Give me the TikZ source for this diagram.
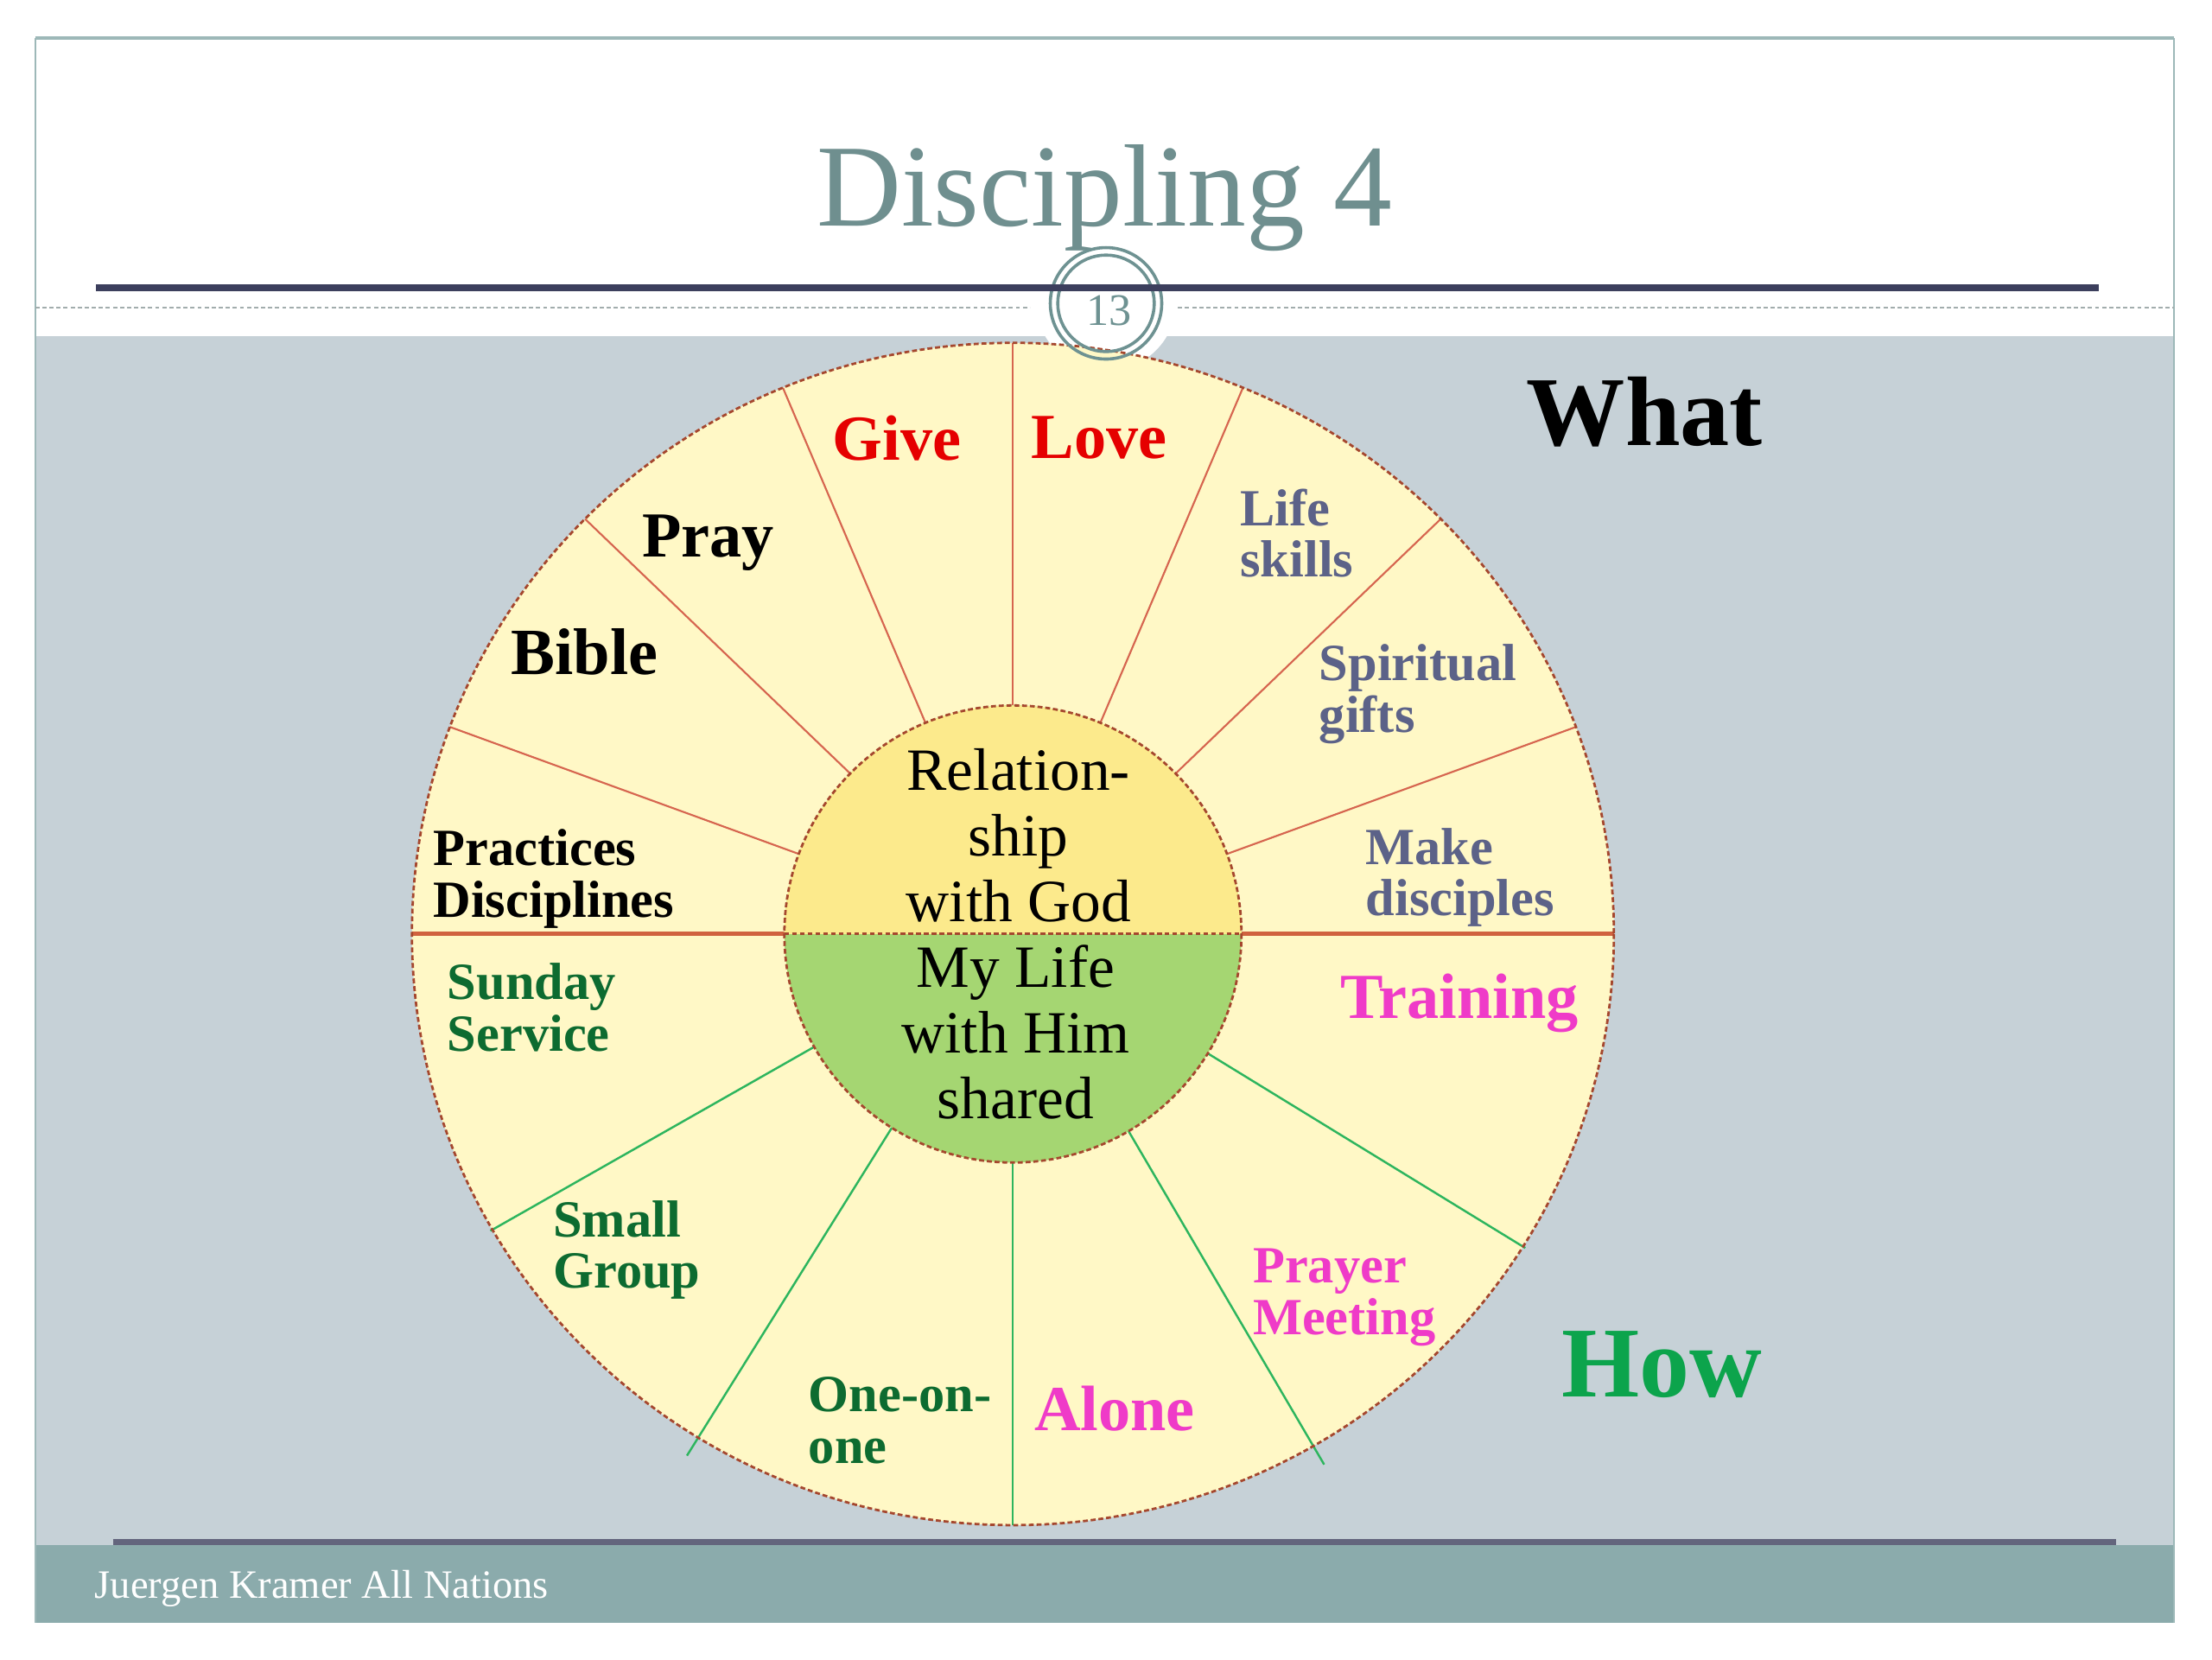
\documentclass[tikz,border=0pt]{standalone}
\usepackage{fontspec}
\setmainfont{Liberation Serif}
\definecolor{titlecol}{HTML}{6F8F8F}
\definecolor{bandgray}{HTML}{C6D1D7}
\definecolor{footteal}{HTML}{8BABAC}
\definecolor{framecol}{HTML}{9DB8B8}
\definecolor{navy}{HTML}{3C3F5D}
\definecolor{dotgray}{HTML}{A2ADAD}
\definecolor{ringcol}{HTML}{6E9292}
\definecolor{ringfill}{HTML}{FFF8C6}
\definecolor{innertop}{HTML}{FCEA8C}
\definecolor{innerbot}{HTML}{A5D672}
\definecolor{dashcol}{HTML}{A5472E}
\definecolor{redspoke}{HTML}{D6654F}
\definecolor{divcol}{HTML}{D0623F}
\definecolor{greenspoke}{HTML}{2DB55E}
\definecolor{labelred}{HTML}{E50000}
\definecolor{labelslate}{HTML}{5C6288}
\definecolor{labelgreen}{HTML}{0D6B30}
\definecolor{labelmag}{HTML}{EF3BC8}
\definecolor{howgreen}{HTML}{0CA44C}
\tikzset{
  lbl/.style={inner sep=0pt, anchor=base west, align=left,
    font=\bfseries\fontsize{37}{36.5}\selectfont},
  biglbl/.style={inner sep=0pt, anchor=base west,
    font=\bfseries\fontsize{45.5}{45}\selectfont},
  huge lbl/.style={inner sep=0pt, anchor=base west,
    font=\bfseries\fontsize{71}{71}\selectfont},
  centertext/.style={inner sep=0pt, anchor=base, align=center,
    font=\fontsize{42.5}{46.5}\selectfont},
  dashborder/.style={draw=dashcol, line width=1.7pt, dash pattern=on 3.5pt off 2pt},
  redline/.style={draw=redspoke, line width=1.3pt},
  greenline/.style={draw=greenspoke, line width=1.5pt},
}
\begin{document}
\begin{tikzpicture}[x=1pt,y=-1pt]
\useasboundingbox (0,0) rectangle (1568,1176);
\fill[white] (0,0) rectangle (1568,1176);
% slide areas
\fill[bandgray] (25,238) rectangle (1541,1095);
\fill[footteal] (25,1095) rectangle (1541,1150);
\fill[white] (784,213) circle[radius=50];
\draw[framecol, line width=2pt] (25,27) -- (1541,27);
\draw[framecol, line width=1pt] (25,27) -- (25,1150) (1541,27) -- (1541,1150);
\draw[navy!80, line width=4.5pt] (80,1093) -- (1500,1093);
% title
\node[inner sep=0pt, anchor=base, text=titlecol, font=\fontsize{83}{90}\selectfont] (title) at (783,160) {Discipling 4};
\draw[dotgray, line width=1.5pt, dash pattern=on 3pt off 2pt] (25,218) -- (730,218) (835,218) -- (1541,218);
% wheel
\coordinate (O) at (718,662);
\fill[ringfill] (O) ellipse[x radius=426, y radius=419];
\foreach \a in {20.5,44.6,67.5,90,112.5,135.4,159.5}{
  \draw[redline] ([shift={(O)}]-\a:426 and 419) -- ([shift={(O)}]-\a:162);
}
\foreach \a/\r in {31.5/426,59.6/436,90/419,122/436,150.4/426}{
  \draw[greenline] ([shift={(O)}]\a:\r) -- ([shift={(O)}]\a:162);
}
\draw[divcol, line width=3pt] (292,662) -- (556,662) (880,662) -- (1144,662);
\fill[innerbot] (O) circle[radius=162];
\fill[innertop] ([shift={(O)}]0:162) arc[start angle=0, end angle=-180, radius=162] -- cycle;
\draw[dashborder] (O) circle[radius=162];
\draw[dashborder] (556,662) -- (880,662);
\draw[dashborder] (O) ellipse[x radius=426, y radius=419];
% page number ring
\draw[ringcol, line width=2.2pt] (784,215) circle[radius=39.5];
\draw[ringcol, line width=2.2pt] (784,215) circle[radius=34.2];
\draw[navy, line width=4.5pt] (68,204) -- (1488,204);
\node[inner sep=0pt, text=ringcol, font=\fontsize{32}{32}\selectfont] (pg) at (786,220) {13};
% center texts (anchor base = last line)
\node[centertext] (rel) at (722,653) {Relation-\\ship\\with God};
\node[centertext] (life) at (720,793) {My Life\\with Him\\shared};
% upper labels
\node[biglbl, text=labelred] (give) at (590,326) {Give};
\node[biglbl, text=labelred] (love) at (731,325) {Love};
\node[biglbl] (pray) at (455,395) {Pray};
\node[biglbl, font=\bfseries\fontsize{46.8}{46}\selectfont] (bible) at (362,478) {Bible};
\node[lbl] (prac) at (307,650) {Practices\\Disciplines};
\node[lbl, text=labelslate] (skills) at (879,409) {Life\\skills};
\node[lbl, text=labelslate] (gifts) at (935,519) {Spiritual\\gifts};
\node[lbl, text=labelslate] (make) at (968,649) {Make\\disciples};
% lower labels
\node[biglbl, text=labelmag] (train) at (950,722) {Training};
\node[lbl, text=labelgreen] (sunday) at (317,745) {Sunday\\Service};
\node[lbl, text=labelgreen] (small) at (392,913) {Small\\Group};
\node[lbl, text=labelgreen] (one) at (573,1037) {One-on-\\one};
\node[biglbl, text=labelmag] (alone) at (733,1014) {Alone};
\node[lbl, text=labelmag] (prayer) at (888,946) {Prayer\\Meeting};
% what / how
\node[huge lbl, font=\bfseries\fontsize{70}{70}\selectfont] (what) at (1082,316) {What};
\node[huge lbl, text=howgreen] (how) at (1107,990) {How};
% footer
\node[inner sep=0pt, anchor=base west, text=white, font=\fontsize{28.5}{30}\selectfont] (foot) at (67,1133) {Juergen Kramer All Nations};
\end{tikzpicture}
\end{document}
